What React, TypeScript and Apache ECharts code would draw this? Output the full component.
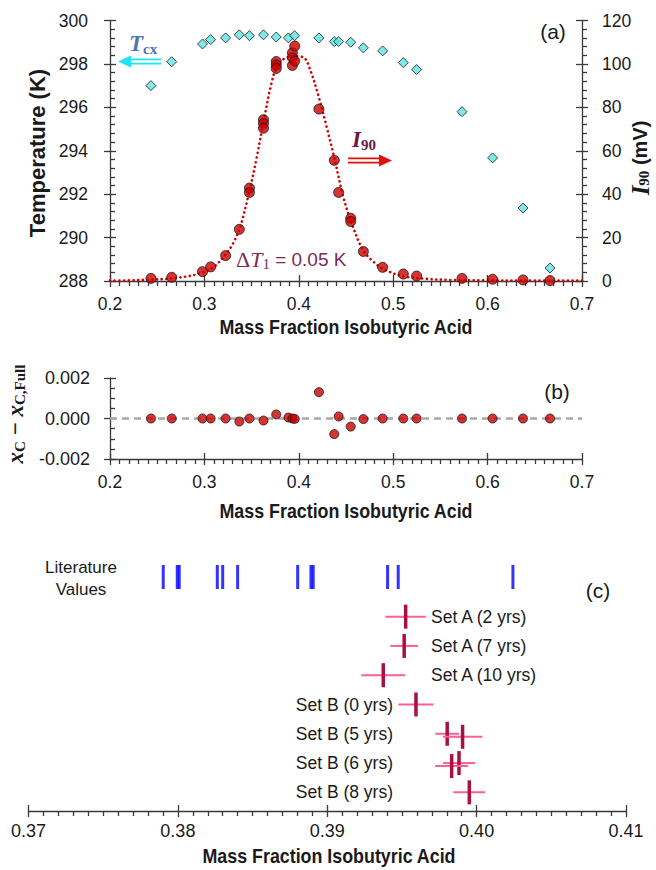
import React, { useEffect, useRef } from 'react';
import * as echarts from 'echarts';

// ---------- Panel (a) data ----------
const tcxX = [0.2434, 0.2654, 0.298, 0.3066, 0.3225, 0.337, 0.3477, 0.3626, 0.3761, 0.389, 0.3955, 0.4213, 0.4376, 0.4422, 0.455, 0.4684, 0.4888, 0.5107, 0.5248, 0.5729, 0.6053, 0.6375, 0.6661];
const tcxK = [297.0, 298.1, 298.92, 299.12, 299.2, 299.34, 299.3, 299.34, 299.24, 299.2, 299.3, 299.2, 299.03, 299.03, 299.0, 298.74, 298.6, 298.06, 297.74, 295.8, 293.67, 291.36, 288.6];

const i90X = [0.2434, 0.2654, 0.298, 0.3066, 0.3225, 0.337, 0.3477, 0.3477, 0.3626, 0.3626, 0.3626, 0.3761, 0.3761, 0.3761, 0.3932, 0.3932, 0.3932, 0.3957, 0.3957, 0.4213, 0.4376, 0.4422, 0.455, 0.455, 0.4684, 0.4888, 0.5107, 0.5248, 0.5729, 0.6053, 0.6375, 0.6661];
const i90mV = [1.2, 1.7, 4.3, 6.5, 11.7, 23.8, 42.8, 40.8, 74.3, 72.6, 70.4, 101.1, 99.5, 97.9, 105.1, 102.8, 99.3, 108.2, 101.3, 79.2, 55.6, 40.8, 28.9, 27.4, 13.6, 6.3, 3.2, 2.3, 1.2, 0.8, 0.5, 0.2];

const fitX = [0.2, 0.22, 0.24, 0.26, 0.28, 0.295, 0.31, 0.322, 0.33, 0.338, 0.348, 0.355, 0.3625, 0.371, 0.377, 0.385, 0.395, 0.405, 0.412, 0.421, 0.4295, 0.438, 0.447, 0.456, 0.468, 0.48, 0.49, 0.51, 0.535, 0.56, 0.6, 0.65, 0.7];
const fitmV = [0.2, 0.3, 0.6, 1.0, 2.0, 3.5, 6.5, 12, 17, 25, 42, 56, 73, 91, 99, 102.5, 103.5, 103, 97.4, 85, 71, 56, 39, 26.6, 14.3, 8.5, 5.5, 2.2, 1.0, 0.5, 0.3, 0.2, 0.2];

const tempTicks = { min: 288, max: 300, interval: 2 };
const mvTicks = { min: 0, max: 120, interval: 20 };

// ---------- Panel (b) data ----------
const residX = [0.2434, 0.2654, 0.298, 0.3066, 0.3225, 0.337, 0.3477, 0.3626, 0.3761, 0.389, 0.3932, 0.3957, 0.4213, 0.4376, 0.4422, 0.455, 0.4684, 0.4888, 0.5107, 0.5248, 0.5729, 0.6053, 0.6375, 0.6661];
const residY = [0, 0, 0, 0, 0, -0.00015, 0, -0.0001, 0.0002, 0.00005, 0, -0.00002, 0.0013, -0.00077, 0.0001, -0.0004, -0.00003, 0, 0, 0, 0, 0, 0, 0];

// ---------- Panel (c) data ----------
const literatureValues = [0.37902, 0.37996, 0.38009, 0.38264, 0.383, 0.384, 0.38802, 0.38891, 0.38906, 0.39404, 0.39475, 0.40243];
const setNames = ['Set A (2 yrs)', 'Set A (7 yrs)', 'Set A (10 yrs)', 'Set B (0 yrs)', 'Set B (5 yrs)', 'Set B (6 yrs)', 'Set B (8 yrs)'];
const measSet = [0, 1, 2, 3, 4, 4, 5, 5, 6];
const measValue = [0.39525, 0.39515, 0.39375, 0.39594, 0.39803, 0.39906, 0.39882, 0.39833, 0.39951];
const measErr = [0.00135, 0.00093, 0.00147, 0.00117, 0.0008, 0.00132, 0.00107, 0.0011, 0.00106];

const xTitle = 'Mass Fraction Isobutyric Acid';

const FONT = '"Liberation Sans", Arial, sans-serif';
const SERIF = '"Liberation Serif", "Times New Roman", serif';
const AX = { color: '#3a3a3a', width: 1.3 };
const LABEL = { fontSize: 17.5, fontFamily: FONT, color: '#1a1a1a' };
const INK = '#1a1a1a';

function mainX(grid: number, min: number, max: number, interval: number, digits: number, opts: any = {}) {
  return {
    gridIndex: grid, type: 'value', min, max, interval, position: 'bottom',
    axisLine: { show: true, onZero: false, lineStyle: AX },
    axisTick: { show: true, inside: false, length: 6, lineStyle: AX },
    minorTick: { show: true, splitNumber: 10, length: 5, lineStyle: AX },
    splitLine: { show: false },
    axisLabel: { ...LABEL, margin: 14, formatter: (v: number) => v.toFixed(digits) },
    ...opts,
  };
}
function extraX(grid: number, min: number, max: number, interval: number, opts: any = {}) {
  return {
    gridIndex: grid, type: 'value', min, max, interval, position: 'bottom',
    axisLine: { show: false, onZero: false }, axisTick: { show: true, inside: true, length: 6, lineStyle: AX },
    axisLabel: { show: false }, splitLine: { show: false }, ...opts,
  };
}
function yAx(grid: number, pos: string, min: number, max: number, interval: number, inside: boolean, main: boolean, opts: any = {}) {
  return {
    gridIndex: grid, type: 'value', min, max, interval, position: pos,
    axisLine: { show: main, onZero: false, lineStyle: AX },
    axisTick: { show: true, inside, length: 6, lineStyle: AX },
    minorTick: { show: main, splitNumber: 5, length: 5, lineStyle: AX },
    splitLine: { show: false },
    axisLabel: main ? { ...LABEL, margin: 21 } : { show: false },
    ...opts,
  };
}
function titleText(x: number, y: number) {
  return {
    type: 'text', x, y, scaleX: 0.85,
    style: { text: xTitle, align: 'center', verticalAlign: 'middle', fontSize: 21, fontWeight: 'bold', fontFamily: FONT, fill: INK },
  };
}

export default function App() {
  const ref = useRef<HTMLDivElement>(null);
  useEffect(() => {
    if (!ref.current) return;
    const chart = echarts.init(ref.current, null, { renderer: 'svg' });

    const measData = measValue.map((v, i) => {
      let sub = 0;
      for (let j = 0; j < i; j++) if (measSet[j] === measSet[i]) sub++;
      return [v, measSet[i], measErr[i], sub];
    });

    const option: any = {
      animation: false,
      backgroundColor: '#fff',
      grid: [
        { left: 110, top: 20.5, width: 472, height: 260.5 },
        { left: 110, top: 378, width: 472, height: 81 },
        { left: 28.5, top: 602, width: 597.5, height: 205 },
        { left: 28.5, top: 565, width: 597.5, height: 24 },
      ],
      xAxis: [
        mainX(0, 0.2, 0.7, 0.1, 1),
        extraX(0, 0.2, 0.7, 0.1),
        mainX(1, 0.2, 0.7, 0.1, 1),
        extraX(1, 0.2, 0.7, 0.1),
        mainX(2, 0.37, 0.41, 0.01, 2, { offset: 4, axisLabel: { ...LABEL, fontSize: 18, margin: 11, formatter: (v: number) => v.toFixed(2) } }),
        extraX(2, 0.37, 0.41, 0.01, { offset: 4 }),
        { gridIndex: 3, type: 'value', min: 0.37, max: 0.41, show: false },
      ],
      yAxis: [
        yAx(0, 'left', tempTicks.min, tempTicks.max, tempTicks.interval, true, true, { axisLabel: { ...LABEL, margin: 22 } }),
        yAx(0, 'right', mvTicks.min, mvTicks.max, mvTicks.interval, false, true, { axisLabel: { ...LABEL, margin: 20 } }),
        yAx(0, 'left', tempTicks.min, tempTicks.max, tempTicks.interval, false, false),
        yAx(0, 'right', mvTicks.min, mvTicks.max, mvTicks.interval, true, false),
        yAx(1, 'left', -0.002, 0.002, 0.002, true, true, {
          minorTick: { show: true, splitNumber: 4, length: 5, lineStyle: AX },
          axisLabel: { ...LABEL, fontSize: 18, margin: 20, formatter: (v: number) => v.toFixed(3) },
        }),
        yAx(1, 'left', -0.002, 0.002, 0.002, false, false),
        { gridIndex: 2, type: 'category', data: setNames, inverse: true, show: false },
        { gridIndex: 3, type: 'value', min: 0, max: 1, show: false },
      ],
      series: [
        {
          type: 'line', xAxisIndex: 0, yAxisIndex: 1, showSymbol: false, smooth: 0.35, z: 2,
          data: fitX.map((x, i) => [x, fitmV[i]]),
          lineStyle: { color: '#d40000', width: 2.6, type: [0.1, 4.6], cap: 'round' },
        },
        {
          type: 'scatter', xAxisIndex: 0, yAxisIndex: 0, symbol: 'diamond', symbolSize: 10, z: 3,
          data: tcxX.map((x, i) => [x, tcxK[i]]),
          itemStyle: { color: '#5fe2e2', borderColor: INK, borderWidth: 1 },
        },
        {
          type: 'scatter', xAxisIndex: 0, yAxisIndex: 1, symbol: 'circle', symbolSize: 10, z: 4,
          data: i90X.map((x, i) => [x, i90mV[i]]),
          itemStyle: { color: '#cc0000', borderColor: INK, borderWidth: 1 },
        },
        {
          type: 'scatter', xAxisIndex: 2, yAxisIndex: 4, symbol: 'circle', symbolSize: 9, z: 4,
          data: residX.map((x, i) => [x, residY[i]]),
          itemStyle: { color: '#cc0000', borderColor: INK, borderWidth: 1 },
          markLine: {
            silent: true, symbol: 'none', label: { show: false }, z: 1,
            lineStyle: { color: '#a8a8a8', type: [7, 5], width: 2.5 },
            data: [{ yAxis: 0 }],
          },
        },
        {
          type: 'scatter', xAxisIndex: 6, yAxisIndex: 7, symbol: 'rect', symbolSize: [3, 24],
          data: literatureValues.map((v) => [v, 0.5]),
          itemStyle: { color: '#0000ff' },
        },
        {
          type: 'custom', xAxisIndex: 4, yAxisIndex: 6, z: 3,
          data: measData,
          renderItem: (params: any, api: any) => {
            const v = api.value(0), row = api.value(1), err = api.value(2), sub = api.value(3);
            const c = api.coord([v, row]);
            const l = api.coord([v - err, row]);
            const r = api.coord([v + err, row]);
            const y = c[1] + sub * 3;
            return {
              type: 'group',
              children: [
                { type: 'line', shape: { x1: l[0], y1: y, x2: r[0], y2: y }, style: { stroke: '#ff5e93', lineWidth: 2 } },
                { type: 'line', shape: { x1: c[0], y1: y - 12, x2: c[0], y2: y + 12 }, style: { stroke: '#a8113d', lineWidth: 3.5 } },
              ],
            };
          },
        },
        {
          type: 'custom', xAxisIndex: 4, yAxisIndex: 6, z: 3,
          data: setNames.map((_, i) => [0.39, i]),
          renderItem: (params: any, api: any) => {
            const row = api.value(1);
            const y = api.coord([0.39, row])[1];
            const name = setNames[row];
            const isA = name.indexOf('Set A') === 0;
            return {
              type: 'text',
              style: {
                text: name, x: isA ? 431 : 393, y, align: isA ? 'left' : 'right', verticalAlign: 'middle',
                fontSize: 17.5, fontFamily: FONT, fill: INK,
              },
            };
          },
        },
      ],
      graphic: [
        titleText(346, 326),
        titleText(346, 510),
        titleText(329, 855),
        {
          type: 'text', x: 37, y: 153, rotation: Math.PI / 2,
          style: { text: 'Temperature (K)', align: 'center', verticalAlign: 'middle', fontSize: 22, fontWeight: 'bold', fontFamily: FONT, fill: INK },
        },
        {
          type: 'text', x: 640, y: 158, rotation: Math.PI / 2,
          style: {
            text: '{i|I}{s|90}{m| (mV)}', align: 'center', verticalAlign: 'middle',
            rich: {
              i: { fontFamily: SERIF, fontStyle: 'italic', fontWeight: 'bold', fontSize: 25, fill: INK, lineHeight: 22 },
              s: { fontFamily: SERIF, fontWeight: 'bold', fontSize: 15, fill: INK, verticalAlign: 'bottom', lineHeight: 17 },
              m: { fontFamily: FONT, fontWeight: 'bold', fontSize: 20, fill: INK, lineHeight: 22 },
            },
          },
        },
        {
          type: 'text', x: 15, y: 414, rotation: Math.PI / 2,
          style: {
            text: '{x|x}{s|C}{m| − }{x|x}{s|C,Full}', align: 'center', verticalAlign: 'middle',
            rich: {
              x: { fontFamily: SERIF, fontStyle: 'italic', fontWeight: 'bold', fontSize: 23, fill: INK, lineHeight: 24 },
              s: { fontFamily: SERIF, fontWeight: 'bold', fontSize: 15, fill: INK, verticalAlign: 'bottom', lineHeight: 19 },
              m: { fontFamily: SERIF, fontWeight: 'bold', fontSize: 23, fill: INK, lineHeight: 24 },
            },
          },
        },
        { type: 'text', x: 553, y: 31, style: { text: '(a)', align: 'center', verticalAlign: 'middle', fontSize: 21, fontFamily: FONT, fill: INK } },
        { type: 'text', x: 557, y: 391, style: { text: '(b)', align: 'center', verticalAlign: 'middle', fontSize: 21, fontFamily: FONT, fill: INK } },
        { type: 'text', x: 598, y: 590, style: { text: '(c)', align: 'center', verticalAlign: 'middle', fontSize: 21, fontFamily: FONT, fill: INK } },
        { type: 'text', x: 81, y: 578, style: { text: 'Literature\nValues', align: 'center', verticalAlign: 'middle', fontSize: 17, lineHeight: 22, fontFamily: FONT, fill: INK } },
        {
          type: 'text', x: 129, y: 43,
          style: {
            text: '{t|T}{s|cx}', align: 'left', verticalAlign: 'middle',
            rich: {
              t: { fontFamily: SERIF, fontStyle: 'italic', fontWeight: 'bold', fontSize: 23, fill: '#4a78b5', lineHeight: 26 },
              s: { fontFamily: SERIF, fontWeight: 'bold', fontSize: 15, fill: '#4a78b5', verticalAlign: 'bottom', lineHeight: 20 },
            },
          },
        },
        { type: 'polygon', shape: { points: [[118, 61.5], [131, 55.5], [131, 67.5]] }, style: { fill: '#20e4f4' } },
        { type: 'line', shape: { x1: 129, y1: 59.4, x2: 161, y2: 59.4 }, style: { stroke: '#20e4f4', lineWidth: 1.8 } },
        { type: 'line', shape: { x1: 129, y1: 63.6, x2: 161, y2: 63.6 }, style: { stroke: '#20e4f4', lineWidth: 1.8 } },
        {
          type: 'text', x: 352, y: 139,
          style: {
            text: '{i|I}{s|90}', align: 'left', verticalAlign: 'middle',
            rich: {
              i: { fontFamily: SERIF, fontStyle: 'italic', fontWeight: 'bold', fontSize: 23, fill: '#6e1846', lineHeight: 26 },
              s: { fontFamily: SERIF, fontWeight: 'bold', fontSize: 15, fill: '#6e1846', verticalAlign: 'bottom', lineHeight: 20 },
            },
          },
        },
        { type: 'polygon', shape: { points: [[392, 160.5], [379, 154.5], [379, 166.5]] }, style: { fill: '#e01010' } },
        { type: 'line', shape: { x1: 348, y1: 158.4, x2: 381, y2: 158.4 }, style: { stroke: '#e01010', lineWidth: 1.8 } },
        { type: 'line', shape: { x1: 348, y1: 162.6, x2: 381, y2: 162.6 }, style: { stroke: '#e01010', lineWidth: 1.8 } },
        {
          type: 'text', x: 236, y: 259,
          style: {
            text: '{d|Δ}{t|T}{s|1}{n| = 0.05 K}', align: 'left', verticalAlign: 'middle',
            rich: {
              d: { fontFamily: SERIF, fontSize: 22, fill: '#7b2a5a', lineHeight: 25 },
              t: { fontFamily: SERIF, fontStyle: 'italic', fontSize: 22, fill: '#7b2a5a', lineHeight: 25 },
              s: { fontFamily: SERIF, fontSize: 15, fill: '#7b2a5a', verticalAlign: 'bottom', lineHeight: 19 },
              n: { fontFamily: FONT, fontSize: 19, fill: '#7b2a5a', lineHeight: 25 },
            },
          },
        },
      ],
    };
    chart.setOption(option);
    return () => chart.dispose();
  }, []);
  return <div ref={ref} style={{ position: 'absolute', left: 0, top: 0, width: 656, height: 870 }} />;
}
